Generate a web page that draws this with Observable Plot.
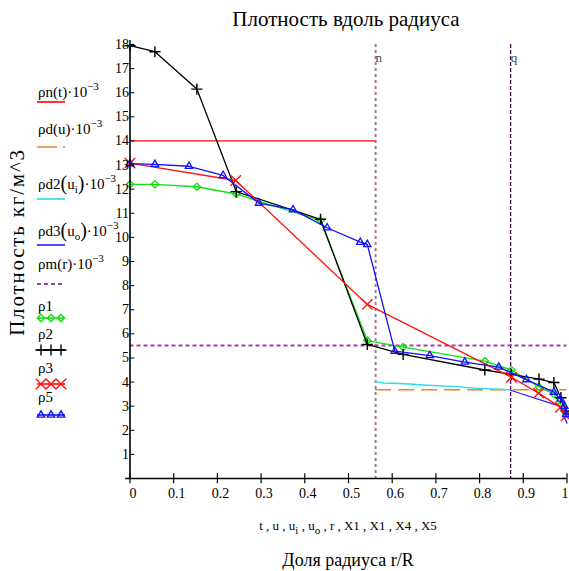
<!DOCTYPE html>
<html>
<head>
<meta charset="utf-8">
<script src="https://cdn.jsdelivr.net/npm/d3@7"></script>
<script src="https://cdn.jsdelivr.net/npm/@observablehq/plot@0.6"></script>
<style>
  body { margin: 0; background: #fff; }
  #wrap { position: relative; width: 569px; height: 571px; overflow: hidden;
          font-family: "Liberation Serif", "Times New Roman", serif; color: #000; }
  #wrap svg.plot { position: absolute; left: 0; top: 0; }
  #wrap svg text { font-family: "Liberation Serif", "Times New Roman", serif; }
  .abs { position: absolute; white-space: nowrap; line-height: 1; font-family: "Liberation Serif", serif; }
  .sup { font-size: 11px; position: relative; top: -7px; }
  .sub { font-size: 11px; position: relative; top: 4px; }
  .bp { font-size: 20px; position: relative; top: 1px; }
</style>
</head>
<body>
<div id="wrap"></div>
<script>
// ---------- data ----------
const xTicks = [0, 0.1, 0.2, 0.3, 0.4, 0.5, 0.6, 0.7, 0.8, 0.9, 1];
const yTicks = [1, 2, 3, 4, 5, 6, 7, 8, 9, 10, 11, 12, 13, 14, 15, 16, 17, 18];

const nPos = 0.562;   // marker "n"
const qPos = 0.871;   // marker "q"

const rhoN = 14;      // ρn(t)·10^-3, t from 0 to n
const rhoD = 3.68;    // ρd(u)·10^-3, u from n to 1
const rhoM = 5.52;    // ρm(r)·10^-3

const uI   = [0.562, 0.58, 0.63, 0.68, 0.74, 0.79, 0.871];
const rhoD2 = [4.02, 3.96, 3.93, 3.87, 3.82, 3.75, 3.68];

const uO   = [0.871, 0.983, 1.0];
const rhoD3 = [3.66, 3.0, 2.3];

const X1   = [0, 0.057, 0.153, 0.243, 0.436, 0.543, 0.625, 0.812, 0.873, 0.936, 0.970, 0.986, 0.998];
const rho1 = [12.2, 12.2, 12.1, 11.8, 10.7, 5.72, 5.45, 4.87, 4.5, 3.8, 3.5, 3.05, 2.7];
const rho2 = [17.95, 17.7, 16.15, 11.9, 10.75, 5.56, 5.15, 4.5, 4.32, 4.12, 3.98, 3.35, 2.8];

const X3   = [0, 0.242, 0.543, 0.873, 0.935, 0.985, 0.998];
const rho3 = [13.08, 12.36, 7.22, 4.2, 3.54, 2.95, 2.6];

const X5   = [0, 0.057, 0.135, 0.213, 0.295, 0.373, 0.451, 0.527, 0.543, 0.606, 0.686, 0.766, 0.844, 0.907, 0.97, 0.985, 0.994, 0.998];
const rho5 = [13.06, 13.03, 12.95, 12.57, 11.42, 11.15, 10.4, 9.8, 9.71, 5.28, 5.1, 4.83, 4.62, 4.1, 3.58, 3.3, 3.0, 2.65];

const markerLabels = ["n", "q"];

// ---------- tables ----------
const zip = (xs, ys) => xs.map((x, i) => ({x, y: ys[i]}));
const d2 = zip(uI, rhoD2), d3s = zip(uO, rhoD3);
const s1 = zip(X1, rho1), s2 = zip(X1, rho2), s3 = zip(X3, rho3), s5 = zip(X5, rho5);
const markers = [{x: nPos, label: markerLabels[0]}, {x: qPos, label: markerLabels[1]}];

const C = {n: "#ff0000", d: "#f08020", d2: "#22e0e8", d3: "#2020ff", m: "#a040a8",
           g: "#10e010", k: "#000000", r: "#ff1010", b: "#1010ff"};
const SERIF = '"Liberation Serif", "Times New Roman", serif';
const fmt = d => d === 0 ? "0" : d === 1 ? "1" : d.toFixed(1);
const xTicksMain = xTicks.slice(0, -1);
const xTicksLast = xTicks.slice(-1);

const chart = Plot.plot({
  width: 569, height: 571,
  marginLeft: 129.5, marginRight: 2.5, marginTop: 44, marginBottom: 93,
  x: {domain: [0, 1]},
  y: {domain: [0, 18]},
  style: {fontFamily: SERIF, background: "transparent", overflow: "visible"},
  marks: [
    Plot.ruleX([nPos], {stroke: "#9a7a9c", strokeWidth: 2, strokeDasharray: "3,3"}),
    Plot.ruleX([qPos], {stroke: "#4a0a50", strokeWidth: 1.3, strokeDasharray: "4,2"}),
    Plot.text(markers, {x: "x", text: "label", frameAnchor: "top", textAnchor: "start",
                        dy: 8, dx: 0, fontSize: 13, fill: "#444"}),
    Plot.ruleY([rhoN], {x1: 0, x2: nPos, stroke: C.n, strokeWidth: 1.3}),
    Plot.ruleY([rhoD], {x1: nPos, x2: 1, stroke: C.d, strokeWidth: 1.5, strokeDasharray: "16,7"}),
    Plot.line(d2, {x: "x", y: "y", stroke: C.d2, strokeWidth: 1.4}),
    Plot.line(d3s, {x: "x", y: "y", stroke: C.d3, strokeWidth: 1.3}),
    Plot.ruleY([rhoM], {x1: 0, x2: 1, stroke: C.m, strokeWidth: 2, strokeDasharray: "4,3"}),
    Plot.line(s1, {x: "x", y: "y", stroke: C.g, strokeWidth: 1.3}),
    Plot.dot(s1, {x: "x", y: "y", symbol: "diamond2", r: 3.3, stroke: C.g, fill: "none", strokeWidth: 1.3}),
    Plot.line(s2, {x: "x", y: "y", stroke: C.k, strokeWidth: 1.3}),
    Plot.dot(s2, {x: "x", y: "y", symbol: "plus", r: 3.7, stroke: C.k, strokeWidth: 1.4}),
    Plot.line(s3, {x: "x", y: "y", stroke: C.r, strokeWidth: 1.3}),
    Plot.dot(s3, {x: "x", y: "y", symbol: "times", r: 4.8, stroke: C.r, strokeWidth: 1.4}),
    Plot.line(s5, {x: "x", y: "y", stroke: C.b, strokeWidth: 1.3}),
    Plot.dot(s5, {x: "x", y: "y", symbol: "triangle2", r: 3.5, stroke: C.b, fill: "none", strokeWidth: 1.3}),
    // axes
    Plot.ruleX([0], {y1: 0, y2: 18, stroke: "#000", strokeWidth: 1.6}),
    Plot.ruleY([0], {x1: -0.01, x2: 1, stroke: "#000", strokeWidth: 1.6}),
    Plot.ruleY(yTicks, {x1: 0, x2: 0.011, stroke: "#000", strokeWidth: 1}),
    Plot.ruleX(xTicks, {y1: -0.22, y2: 0.2, stroke: "#000", strokeWidth: 1.2}),
    Plot.axisY({ticks: yTicks, tickSize: 0, tickPadding: 1, fontSize: 14, fontFamily: SERIF, label: null}),
    Plot.axisX({ticks: xTicksMain, tickSize: 0, tickPadding: 10, dx: 3, fontSize: 14, fontFamily: SERIF, tickFormat: fmt, label: null}),
    Plot.axisX({ticks: xTicksLast, tickSize: 0, tickPadding: 10, dx: -2, fontSize: 14, fontFamily: SERIF, tickFormat: fmt, label: null})
  ]
});
chart.classList.add("plot");
const wrap = document.getElementById("wrap");
wrap.appendChild(chart);

function addText(html, left, top, size, extra = "") {
  const el = document.createElement("div");
  el.className = "abs";
  el.innerHTML = html;
  el.style.cssText += `left:${left}px;top:${top}px;font-size:${size}px;${extra}`;
  wrap.appendChild(el);
  return el;
}

// titles
addText("Плотность вдоль радиуса", 346, 9, 21, "transform:translateX(-50%);");
addText("t , u , u<span class='sub'>i</span> , u<span class='sub'>o</span> , r , X1 , X1 , X4 , X5", 348, 519, 13, "transform:translateX(-50%);");
addText("Доля радиуса r/R", 348, 551, 18, "transform:translateX(-50%);");
// y label (rotated)
addText("Плотность  кг/м^3", 17, 242, 21,
  "transform:translate(-50%,-50%) rotate(-90deg);letter-spacing:1.8px;");

// legend
const legendItems = [
  {html: "ρn(t)·10<span class='sup'>−3</span>", ty: 93, sy: 102, kind: "line", color: C.n},
  {html: "ρd(u)·10<span class='sup'>−3</span>", ty: 130, sy: 147, kind: "dashdot", color: C.d},
  {html: "ρd2<span class='bp'>(</span>u<span class='sub'>i</span><span class='bp'>)</span>·10<span class='sup'>−3</span>", ty: 180, sy: 199, kind: "line", color: C.d2},
  {html: "ρd3<span class='bp'>(</span>u<span class='sub'>o</span><span class='bp'>)</span>·10<span class='sup'>−3</span>", ty: 227, sy: 245, kind: "line", color: C.d3},
  {html: "ρm(r)·10<span class='sup'>−3</span>", ty: 265, sy: 284, kind: "dash", color: C.m},
  {html: "ρ1", ty: 307, sy: 318, kind: "sym", sym: d3.symbolDiamond2, size: 34, color: C.g},
  {html: "ρ2", ty: 335, sy: 350, kind: "sym", sym: d3.symbolPlus, size: 43, color: C.k},
  {html: "ρ3", ty: 369, sy: 384, kind: "sym", sym: d3.symbolTimes, size: 72, color: C.r},
  {html: "ρ5", ty: 398, sy: 415, kind: "sym", sym: d3.symbolTriangle2, size: 38, color: C.b}
];
const NS = "http://www.w3.org/2000/svg";
const lsvg = document.createElementNS(NS, "svg");
lsvg.setAttribute("width", 130); lsvg.setAttribute("height", 571);
lsvg.style.cssText = "position:absolute;left:0;top:0;";
wrap.appendChild(lsvg);
for (const it of legendItems) {
  addText(it.html, 38, it.ty - 8, 15);
  const ln = document.createElementNS(NS, "line");
  ln.setAttribute("x1", 37); ln.setAttribute("x2", 65);
  ln.setAttribute("y1", it.sy); ln.setAttribute("y2", it.sy);
  ln.setAttribute("stroke", it.color);
  ln.setAttribute("stroke-width", it.kind === "dash" ? 2 : 1.6);
  if (it.kind === "dashdot") ln.setAttribute("stroke-dasharray", "20,6,2,10");
  if (it.kind === "dash") ln.setAttribute("stroke-dasharray", "4,3");
  lsvg.appendChild(ln);
  if (it.kind === "sym") {
    for (const cx of [41, 51, 61]) {
      const p = document.createElementNS(NS, "path");
      p.setAttribute("d", d3.symbol(it.sym, it.size)());
      p.setAttribute("transform", `translate(${cx},${it.sy})`);
      p.setAttribute("fill", "none");
      p.setAttribute("stroke", it.color);
      p.setAttribute("stroke-width", 1.4);
      lsvg.appendChild(p);
    }
  }
}
</script>
</body>
</html>
